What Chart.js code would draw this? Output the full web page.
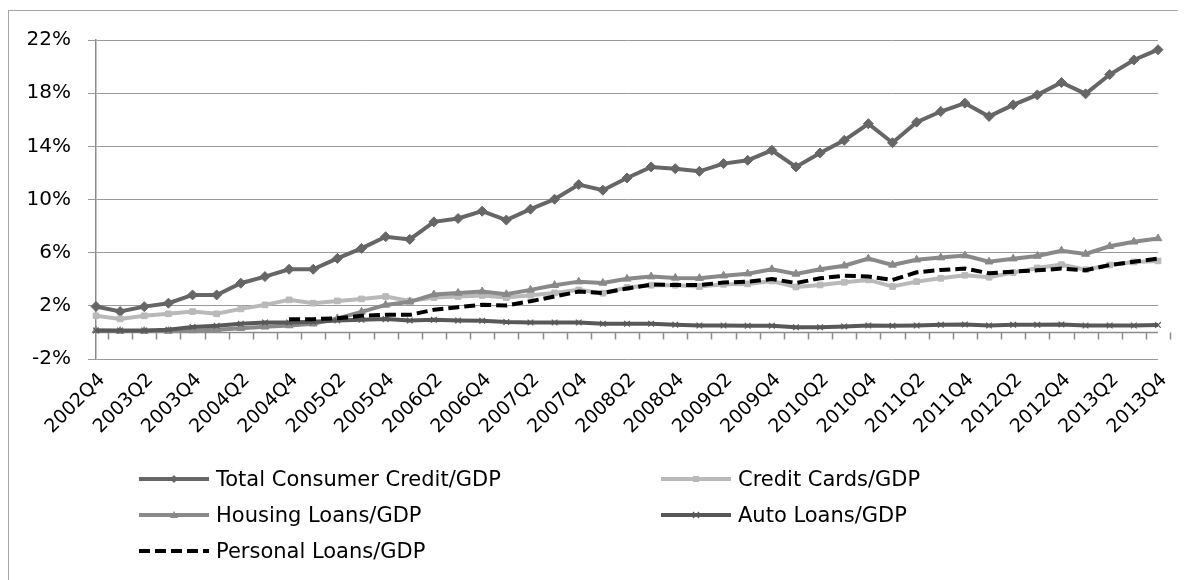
<!DOCTYPE html>
<html>
<head>
<meta charset="utf-8">
<script src="https://cdn.jsdelivr.net/npm/chart.js@4.4.0/dist/chart.umd.min.js"></script>
<style>
    html, body { margin: 0; width: 1186px; height: 580px; overflow: hidden; background: #fff; font-family: "DejaVu Sans", sans-serif; }
    .rule { position: absolute; background: #a6a6a6; }
    #ruleTop { left: 8px; top: 10px; width: 1170px; height: 1px; }
    #ruleLeft { left: 8px; top: 10px; width: 1px; height: 570px; }
    #chart { position: absolute; left: 0; top: 0; }
    #legend { position: absolute; left: 139px; top: 461px; width: 1000px; display: grid; grid-template-columns: 522px 478px; grid-auto-rows: 36px; }
    .item { display: flex; align-items: center; font-size: 21px; color: #000; white-space: nowrap; }
    .item svg { margin-right: 7px; flex: none; }
</style>
</head>
<body>
<div class="rule" id="ruleTop"></div>
<div class="rule" id="ruleLeft"></div>
<canvas id="chart" width="1186" height="580"></canvas>
<div id="legend"></div>
<script>
const quarters = [
    '2002Q4', '2003Q1', '2003Q2', '2003Q3', '2003Q4', '2004Q1', '2004Q2', '2004Q3', '2004Q4',
    '2005Q1', '2005Q2', '2005Q3', '2005Q4', '2006Q1', '2006Q2', '2006Q3', '2006Q4',
    '2007Q1', '2007Q2', '2007Q3', '2007Q4', '2008Q1', '2008Q2', '2008Q3', '2008Q4',
    '2009Q1', '2009Q2', '2009Q3', '2009Q4', '2010Q1', '2010Q2', '2010Q3', '2010Q4',
    '2011Q1', '2011Q2', '2011Q3', '2011Q4', '2012Q1', '2012Q2', '2012Q3', '2012Q4',
    '2013Q1', '2013Q2', '2013Q3', '2013Q4'
];

// values in % of GDP
const totalCredit = [
    1.95, 1.57, 1.94, 2.2, 2.82, 2.82, 3.7, 4.2, 4.75, 4.75,
    5.57, 6.32, 7.2, 7.0, 8.32, 8.57, 9.12, 8.45, 9.27, 10.02,
    11.12, 10.7, 11.62, 12.45, 12.32, 12.12, 12.7, 12.95, 13.7, 12.45,
    13.5, 14.45, 15.7, 14.27, 15.82, 16.62, 17.25, 16.25, 17.12, 17.87,
    18.8, 17.95, 19.4, 20.5, 21.27
];
const creditCards = [
    1.25, 1.02, 1.25, 1.4, 1.57, 1.4, 1.77, 2.07, 2.45, 2.2,
    2.37, 2.52, 2.7, 2.37, 2.62, 2.7, 2.78, 2.62, 2.8, 2.97,
    3.2, 2.95, 3.38, 3.55, 3.55, 3.45, 3.62, 3.65, 3.87, 3.42,
    3.57, 3.77, 3.95, 3.45, 3.82, 4.07, 4.3, 4.15, 4.5, 4.85,
    5.1, 4.72, 5.07, 5.3, 5.38
];
const housingLoans = [
    0.15, 0.1, 0.1, 0.1, 0.15, 0.2, 0.32, 0.42, 0.52, 0.65,
    1.05, 1.55, 2.07, 2.3, 2.85, 2.97, 3.08, 2.87, 3.2, 3.55,
    3.82, 3.72, 4.03, 4.2, 4.1, 4.08, 4.27, 4.42, 4.75, 4.4,
    4.75, 5.02, 5.55, 5.08, 5.47, 5.63, 5.78, 5.32, 5.55, 5.75,
    6.15, 5.9, 6.48, 6.82, 7.07
];
const autoLoans = [
    0.15, 0.15, 0.15, 0.2, 0.4, 0.5, 0.65, 0.75, 0.75, 0.8,
    0.9, 0.95, 1.0, 0.9, 0.95, 0.9, 0.88, 0.78, 0.75, 0.75,
    0.75, 0.65, 0.65, 0.65, 0.58, 0.52, 0.52, 0.5, 0.5, 0.38,
    0.38, 0.45, 0.52, 0.5, 0.52, 0.57, 0.6, 0.52, 0.57, 0.57,
    0.6, 0.52, 0.52, 0.52, 0.55
];
const personalLoans = [
    null, null, null, null, null, null, null, null, 1.0, 1.0,
    1.07, 1.25, 1.32, 1.32, 1.7, 1.9, 2.08, 2.03, 2.35, 2.7,
    3.07, 2.97, 3.3, 3.6, 3.57, 3.57, 3.75, 3.82, 4.02, 3.72,
    4.07, 4.27, 4.2, 3.95, 4.52, 4.7, 4.8, 4.45, 4.57, 4.67,
    4.8, 4.68, 5.07, 5.32, 5.55
];
const yTicks = [-2, 2, 6, 10, 14, 18, 22];

// Excel-style horizontal axis crossing at 0, tick marks between categories
const zeroAxis = {
    id: 'zeroAxis',
    beforeDatasetsDraw(chart) {
        const { ctx, chartArea, scales: { x, y } } = chart;
        const y0 = Math.round(y.getPixelForValue(0)) + 0.5;
        ctx.save();
        ctx.strokeStyle = '#8c8c8c';
        ctx.lineWidth = 1.5;
        ctx.beginPath();
        ctx.moveTo(chartArea.left, y0);
        ctx.lineTo(chartArea.right, y0);
        for (let i = 1; i <= quarters.length; i++) {
            const px = Math.round(x.getPixelForValue(i - 0.5)) + 0.5;
            ctx.moveTo(px, y0);
            ctx.lineTo(px, y0 + 7);
        }
        ctx.stroke();
        ctx.restore();
    }
};

function symbol(ds) {
    const dash = ds.borderDash ? ' stroke-dasharray="' + ds.borderDash.join(' ') + '"' : '';
    let mark = '';
    const c = ds.borderColor;
    if (ds.pointStyle === 'rectRot') mark = '<path d="M35 6 L39 10 L35 14 L31 10 Z" fill="' + c + '"/>';
    if (ds.pointStyle === 'rect') mark = '<rect x="32" y="7" width="6" height="6" fill="' + c + '"/>';
    if (ds.pointStyle === 'triangle') mark = '<path d="M35 6 L39 13 L31 13 Z" fill="' + c + '"/>';
    if (ds.pointStyle === 'crossRot') mark = '<path d="M32 7 L38 13 M38 7 L32 13" stroke="' + c + '" stroke-width="1.2"/>';
    return '<svg width="70" height="20"><line x1="0" y1="10" x2="70" y2="10" stroke="' + c +
        '" stroke-width="4"' + dash + '/>' + (ds.pointRadius ? mark : '') + '</svg>';
}

const htmlLegend = {
    id: 'htmlLegend',
    afterUpdate(chart) {
        const box = document.getElementById('legend');
        box.innerHTML = '';
        chart.data.datasets.forEach(ds => {
            const item = document.createElement('div');
            item.className = 'item';
            item.innerHTML = symbol(ds) + '<span>' + ds.label + '</span>';
            box.appendChild(item);
        });
    }
};

Chart.defaults.font.family = '"DejaVu Sans", sans-serif';
Chart.defaults.color = '#000';

new Chart(document.getElementById('chart'), {
    type: 'line',
    data: {
        labels: quarters,
        datasets: [
            {
                label: 'Total Consumer Credit/GDP', data: totalCredit, order: 5,
                borderColor: '#666666', backgroundColor: '#666666', borderWidth: 4,
                pointStyle: 'rectRot', pointRadius: 5, pointBorderWidth: 1
            },
            {
                label: 'Credit Cards/GDP', data: creditCards, order: 4,
                borderColor: '#b9b9b9', backgroundColor: '#b9b9b9', borderWidth: 4,
                pointStyle: 'rect', pointRadius: 4, pointBorderWidth: 1
            },
            {
                label: 'Housing Loans/GDP', data: housingLoans, order: 3,
                borderColor: '#898989', backgroundColor: '#898989', borderWidth: 4,
                pointStyle: 'triangle', pointRadius: 4.5, pointBorderWidth: 1
            },
            {
                label: 'Auto Loans/GDP', data: autoLoans, order: 2,
                borderColor: '#585858', backgroundColor: '#585858', borderWidth: 4,
                pointStyle: 'crossRot', pointRadius: 4, pointBorderWidth: 1.2
            },
            {
                label: 'Personal Loans/GDP', data: personalLoans, order: 1,
                borderColor: '#000000', backgroundColor: '#000000', borderWidth: 4,
                borderDash: [11, 5], pointRadius: 0
            }
        ]
    },
    options: {
        responsive: false,
        animation: false,
        devicePixelRatio: 1,
        layout: { padding: { top: 40, right: 28, left: 0, bottom: 0 } },
        elements: { line: { tension: 0 } },
        plugins: {
            legend: { display: false },
            tooltip: { enabled: false }
        },
        scales: {
            x: {
                grid: { display: false },
                border: { display: false },
                ticks: {
                    autoSkip: false,
                    minRotation: 45,
                    maxRotation: 45,
                    padding: 2,
                    labelOffset: 6,
                    font: { size: 19 },
                    callback: (v, i) => (i % 2 === 0 ? quarters[i] : '')
                },
                afterFit: s => { s.height = 221; }
            },
            y: {
                min: yTicks[0],
                max: yTicks[yTicks.length - 1],
                ticks: {
                    stepSize: yTicks[1] - yTicks[0],
                    padding: 17,
                    font: { size: 20 },
                    callback: v => v + '%'
                },
                grid: { color: '#9a9a9a', lineWidth: 1, tickLength: 8, drawTicks: true },
                border: { color: '#8c8c8c', width: 1.5 },
                afterFit: s => { s.width = 96; }
            }
        }
    },
    plugins: [zeroAxis, htmlLegend]
});
</script>
</body>
</html>
